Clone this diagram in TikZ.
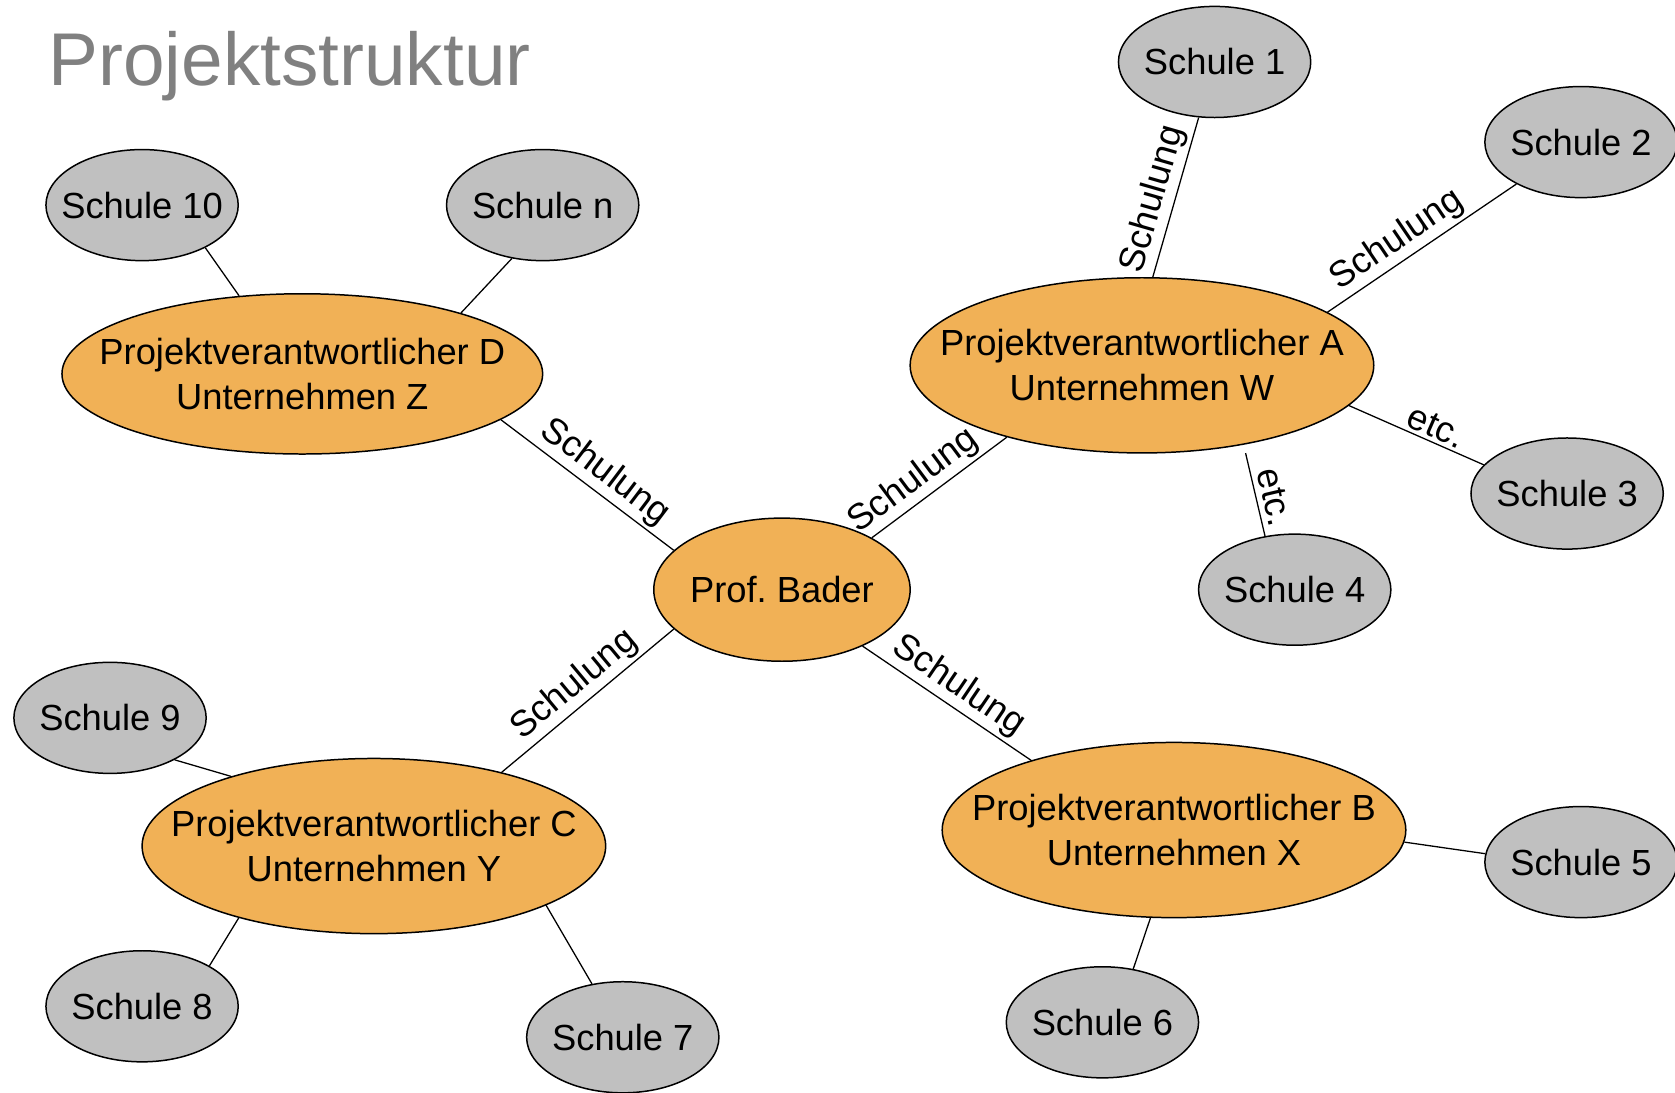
\documentclass[tikz,border=0pt]{standalone}
\usepackage{fontspec}
\setmainfont{Liberation Sans}
\usetikzlibrary{shapes.geometric}
\definecolor{orangefill}{RGB}{241,177,86}
\definecolor{grayfill}{RGB}{192,192,192}
\definecolor{titlegray}{RGB}{128,128,128}
\frenchspacing
\begin{document}
\begin{tikzpicture}[x=0.5pt,y=-0.5pt,
  base/.style={ellipse, draw=black, line width=0.7pt, inner sep=-40pt,
    font=\fontsize{17}{21}\selectfont, align=center},
  school/.style={base, fill=grayfill, minimum width=90pt, minimum height=52pt},
  proj/.style={base, fill=orangefill, minimum width=217pt, minimum height=82pt},
  conn/.style={line width=0.6pt},
  lab/.style={font=\fontsize{17}{21}\selectfont, sloped, above, inner sep=1.5pt}
]
\path[use as bounding box] (0,0) rectangle (1568,1023);

\node[anchor=base west, inner sep=0pt, text=titlegray,
  font=\fontsize{35}{40}\selectfont] (title) at (45,80) {Projektstruktur};

\node[proj] (A) at (1069,342) {Projektverantwortlicher A\\Unternehmen W};
\node[proj] (B) at (1099,777) {Projektverantwortlicher B\\Unternehmen X};
\node[proj] (C) at (350,792) {Projektverantwortlicher C\\Unternehmen Y};
\node[proj, minimum width=225pt, minimum height=75pt] (D) at (283,350) {Projektverantwortlicher D\\Unternehmen Z};
\node[proj, minimum width=120pt, minimum height=67pt] (P) at (732,552) {Prof.\ Bader};

\node[school] (S1) at (1137,58) {Schule 1};
\node[school] (S2) at (1480,133) {Schule 2};
\node[school] (S3) at (1467,462) {Schule 3};
\node[school] (S4) at (1212,552) {Schule 4};
\node[school] (S5) at (1480,807) {Schule 5};
\node[school] (S6) at (1032,957) {Schule 6};
\node[school] (S7) at (583,971) {Schule 7};
\node[school] (S8) at (133,942) {Schule 8};
\node[school] (S9) at (103,672) {Schule 9};
\node[school] (S10) at (133,192) {Schule 10};
\node[school] (Sn) at (508,192) {Schule n};

\draw[conn] (A.83.7) -- node[lab, pos=0.45]{Schulung} (S1.254.5);
\draw[conn] (A.16.7) -- node[lab, pos=0.43]{Schulung} (S2.213.3);
\draw[conn] (A.349.4) -- node[lab, pos=0.6]{etc.} (S3.161.6);
\draw[conn, shorten <=4pt] (A.322.7) -- node[lab, pos=0.62, inner sep=2.5pt]{etc.} (S4.119.1);
\draw[conn] (P.30) -- node[lab, pos=0.4]{Schulung} (A.208.2);
\draw[conn] (D.347) -- node[lab, pos=0.53]{Schulung} (P.160.4);
\draw[conn] (C.30.7) -- node[lab]{Schulung} (P.200.1);
\draw[conn] (P.325.1) -- node[lab]{Schulung} (B.154.6);

\draw[conn] (B.357.9) -- (S5.175.5);
\draw[conn] (B.255.2) -- (S6.60);
\draw[conn] (C.154.7) -- (S9.327.7);
\draw[conn] (C.208.2) -- (S8.31.7);
\draw[conn] (C.341.5) -- (S7.120.5);
\draw[conn] (D.129.4) -- (S10.326.3);
\draw[conn] (D.21.8) -- (Sn.240.5);
\end{tikzpicture}
\end{document}
